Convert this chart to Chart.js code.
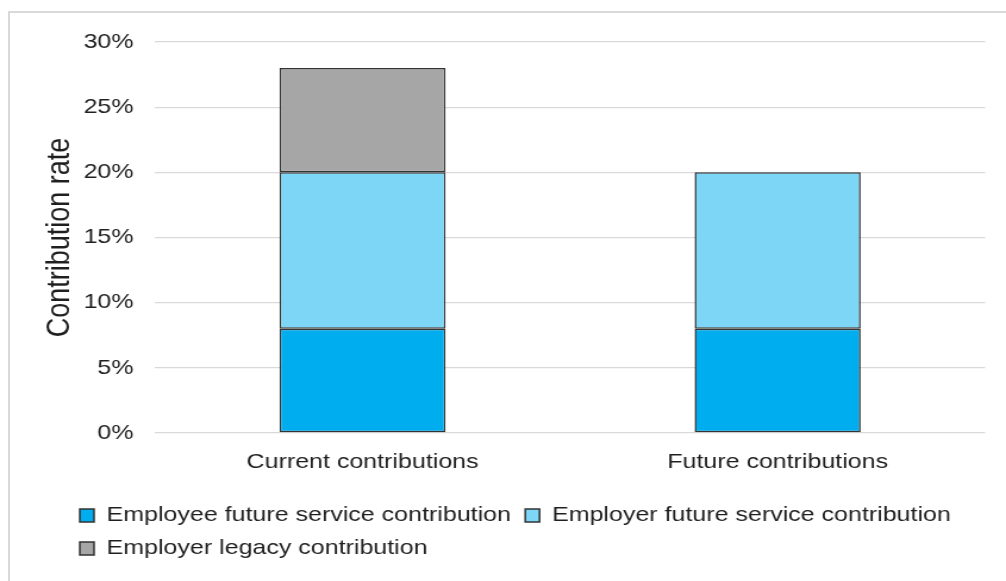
<!DOCTYPE html>
<html>
<head>
<meta charset="utf-8">
<script src="https://cdn.jsdelivr.net/npm/chart.js@4.4.1/dist/chart.umd.min.js"></script>
<style>
  html, body { margin: 0; padding: 0; background: #ffffff; overflow: hidden; }
  #wrap { position: relative; width: 1006px; height: 581px; }
  #frame { position: absolute; left: 8px; top: 11px; width: 1200px; height: 800px; border: 2px solid #d9d9d9; box-sizing: border-box; }
  #c { position: absolute; left: 0; top: 0; width: 1006px; height: 581px; }
</style>
</head>
<body>
<div id="wrap">
  <div id="frame"></div>
  <!-- drawn at 845px wide and stretched to 1006px, like the reference -->
  <canvas id="c" width="845" height="581" style="width:1006px;height:581px"></canvas>
</div>
<script>
const categories = ['Current contributions', 'Future contributions'];
const seriesNames = ['Employee future service contribution', 'Employer future service contribution', 'Employer legacy contribution'];
const employeeFuture = [8, 8];
const employerFuture = [12, 12];
const employerLegacy = [8, null];
const yTicks = [0, 5, 10, 15, 20, 25, 30];
const yAxisTitle = 'Contribution rate';

const FONT = '"Liberation Sans", Arial, sans-serif';
const TEXT = '#1f1f1f';

const legendPlace = {
  id: 'legendPlace',
  afterLayout(c) {
    const lg = c.legend;
    if (lg) {
      const h = lg.height;
      lg.left = 55; lg.right = 845;
      lg.top = 493; lg.bottom = 493 + h;
    }
  }
};

const mk = (label, data, color) => ({
  label, data, backgroundColor: color, borderColor: '#333333', borderWidth: 1.5,
  borderSkipped: false, barPercentage: 0.4, categoryPercentage: 1.0
});

new Chart(document.getElementById('c'), {
  type: 'bar',
  data: {
    labels: categories,
    datasets: [
      mk(seriesNames[0], employeeFuture, '#00adee'),
      mk(seriesNames[1], employerFuture, '#7dd6f6'),
      mk(seriesNames[2], employerLegacy, '#a6a6a6')
    ]
  },
  options: {
    responsive: false,
    animation: false,
    devicePixelRatio: 1,
    layout: { padding: { left: 0, right: 17.5, top: 42, bottom: 16 } },
    plugins: {
      tooltip: { enabled: false },
      legend: {
        position: 'bottom',
        align: 'start',
        labels: {
          font: { family: FONT, size: 21 },
          color: TEXT,
          boxWidth: 12,
          boxHeight: 13,
          padding: 12
        }
      }
    },
    scales: {
      x: {
        stacked: true,
        grid: { display: false, drawTicks: false },
        border: { display: false },
        ticks: { font: { family: FONT, size: 21 }, color: TEXT, padding: 17 },
        afterFit(s) { s.height = 56; }
      },
      y: {
        stacked: true,
        min: 0, max: 30,
        afterBuildTicks(s) { s.ticks = yTicks.map(v => ({ value: v })); },
        grid: { color: '#d9d9d9', lineWidth: 1.3, drawTicks: false },
        border: { display: false },
        ticks: { font: { family: FONT, size: 21 }, color: TEXT, padding: 18, callback: v => v + '%' },
        title: { display: true, text: yAxisTitle, font: { family: FONT, size: 27 }, color: TEXT, padding: { top: 34, bottom: 0 } },
        afterFit(s) { s.width = 130.2; }
      }
    }
  },
  plugins: [legendPlace]
});
</script>
</body>
</html>
